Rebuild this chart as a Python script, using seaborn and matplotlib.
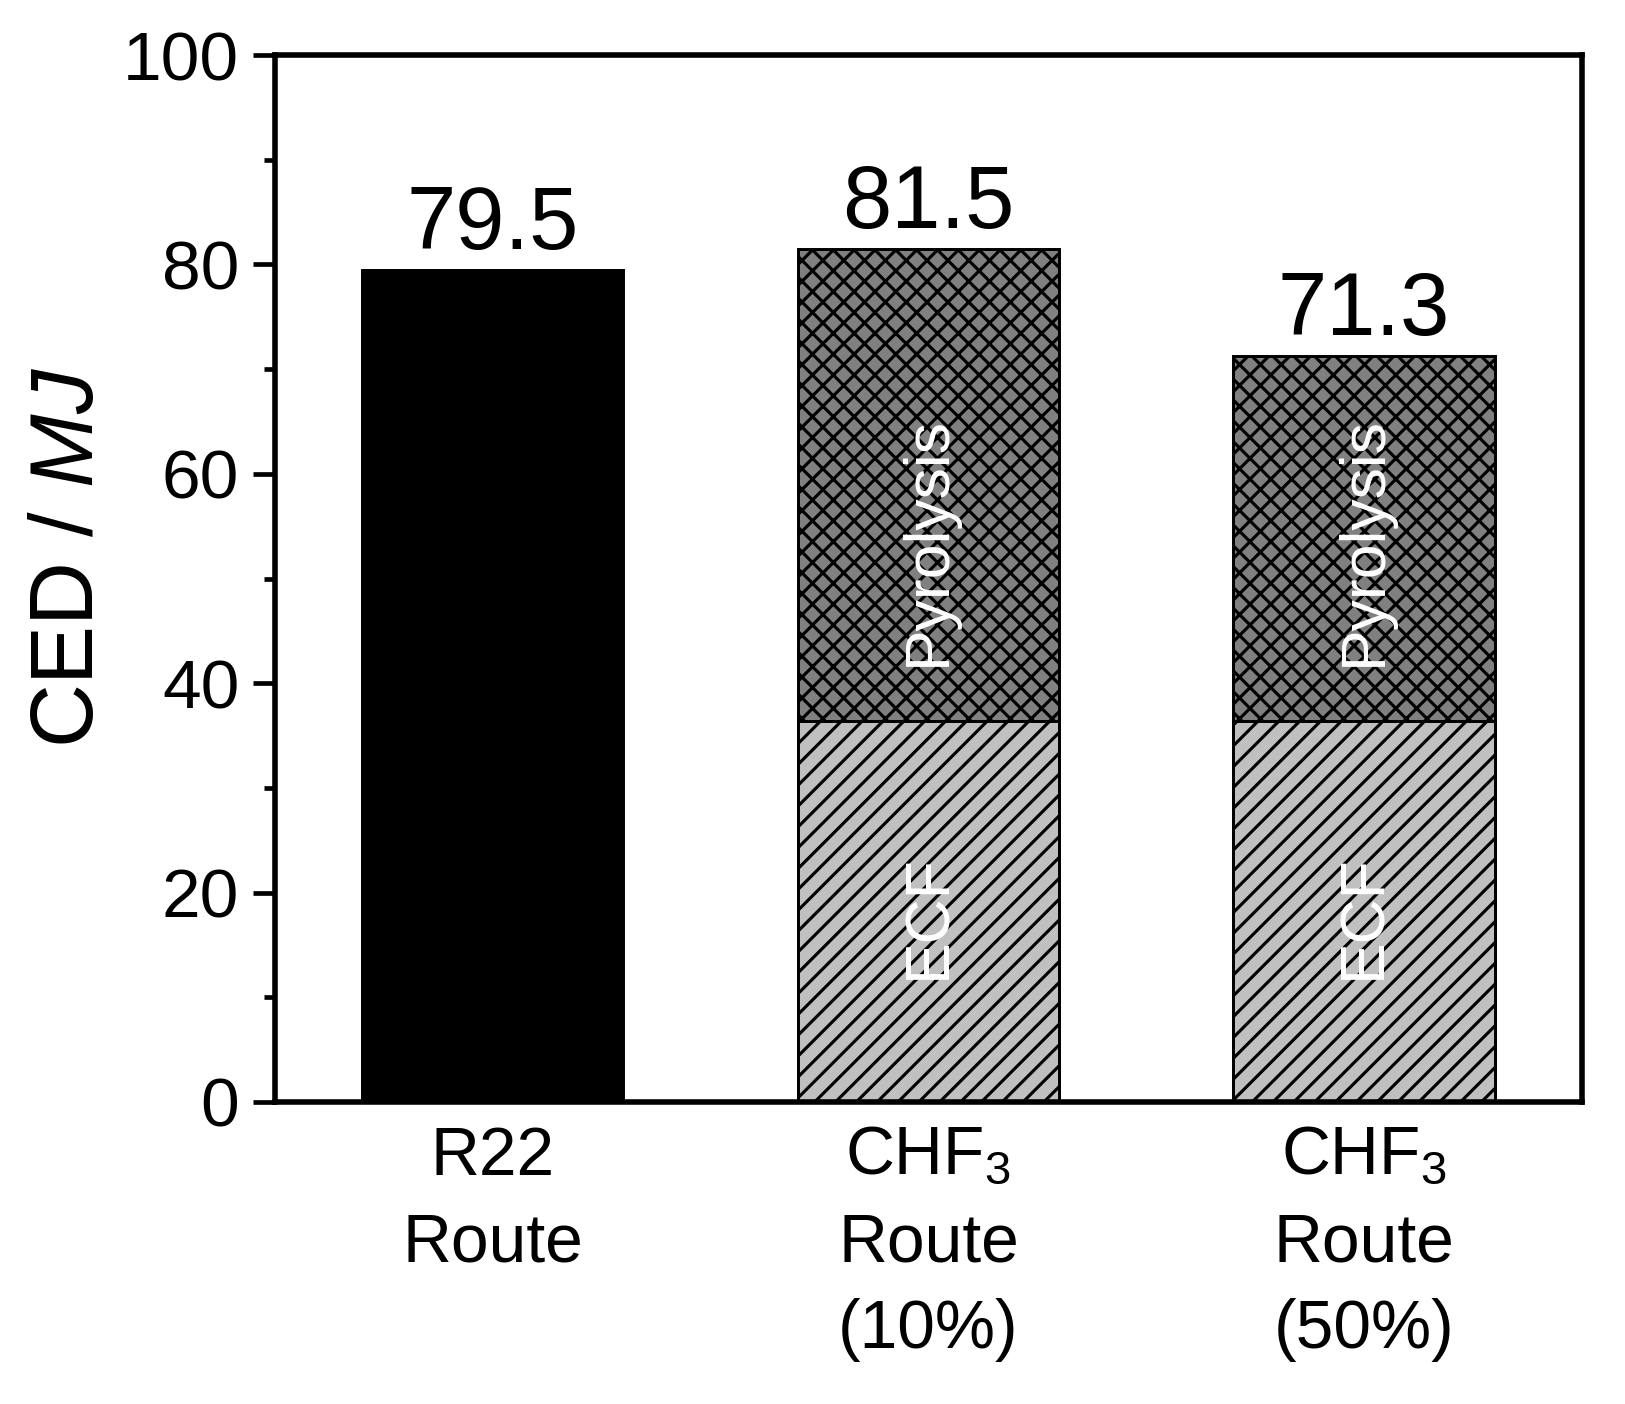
import numpy as np
import pandas as pd
import matplotlib
matplotlib.use("Agg")
import matplotlib.pyplot as plt
import seaborn as sns
from matplotlib.ticker import MultipleLocator

# ---- data ----
routes = ["R22\nRoute", "CHF$_3$\nRoute\n(10%)", "CHF$_3$\nRoute\n(50%)"]
totals = [79.5, 81.5, 71.3]
ecf = [np.nan, 36.4, 36.4]
total_labels = ["79.5", "81.5", "71.3"]
total_colors = ["#000000", "#808080", "#808080"]
total_hatches = ["", "xx", "xx"]
ecf_color = "#c0c0c0"
ecf_hatch = "//"
segment_names = ["Pyrolysis", "ECF"]
segment_label_y = [53.6, 17.7]

# ---- style ----
sns.set_theme(style="ticks")
plt.rcParams["font.family"] = ["Liberation Sans", "DejaVu Sans"]
plt.rcParams["mathtext.fontset"] = "custom"
plt.rcParams["mathtext.rm"] = "Liberation Sans"
plt.rcParams["mathtext.it"] = "Liberation Sans:italic"
plt.rcParams["mathtext.default"] = "regular"
plt.rcParams["hatch.linewidth"] = 1.8

fig = plt.figure(figsize=(13, 11.232), dpi=125)
ax = fig.add_axes([0.1692, 0.2151, 0.8043, 0.7457])

df_tot = pd.DataFrame({"route": routes, "ced": totals})
sns.barplot(data=df_tot, x="route", y="ced", hue="route", order=routes,
            hue_order=routes, palette=total_colors, saturation=1, width=0.6,
            edgecolor="black", linewidth=1.7, legend=False, ax=ax)
n_tot = len(ax.patches)

df_ecf = pd.DataFrame({"route": routes, "ced": ecf}).dropna()
sns.barplot(data=df_ecf, x="route", y="ced", order=routes, color=ecf_color,
            saturation=1, width=0.6, edgecolor="black", linewidth=1.7, ax=ax)

# hatches
for i, p in enumerate(ax.patches):
    idx = int(round(p.get_x() + p.get_width() / 2))
    if i < n_tot:
        p.set_hatch(total_hatches[idx])
    else:
        p.set_hatch(ecf_hatch)

# value labels on top of total bars
for c in ax.containers[:len(routes)]:
    idx = int(round(c.patches[0].get_x() + c.patches[0].get_width() / 2))
    ax.bar_label(c, labels=[total_labels[idx]], padding=1, fontsize=51,
                 color="black")

# segment labels
for idx in range(len(routes)):
    if not np.isnan(ecf[idx]):
        for name, yy in zip(segment_names, segment_label_y):
            ax.text(idx, yy, name, rotation=90, color="white", fontsize=36,
                    ha="center", va="center")

# axes
ax.set_xlim(-0.5, len(routes) - 0.5)
ax.set_ylim(0, 100)
ax.yaxis.set_major_locator(MultipleLocator(20))
ax.yaxis.set_minor_locator(MultipleLocator(10))
ax.tick_params(axis="y", which="major", direction="out", length=12.5,
               width=2.7, labelsize=40, pad=8, left=True, right=False,
               color="black", labelcolor="black")
ax.tick_params(axis="y", which="minor", direction="out", length=6.3,
               width=2.7, left=True, right=False, color="black")
ax.tick_params(axis="x", which="both", length=0, labelsize=39, pad=13,
               labelcolor="black")
for lab in ax.get_xticklabels():
    lab.set_linespacing(1.45)
for s in ax.spines.values():
    s.set_visible(True)
    s.set_linewidth(3.2)
    s.set_color("black")

ax.set_xlabel("")
ax.set_ylabel("CED / $\\mathit{MJ}$", fontsize=51, color="black")
ax.yaxis.set_label_coords(-0.125, 0.52)

fig.savefig("out.png", dpi=125, facecolor="white")
